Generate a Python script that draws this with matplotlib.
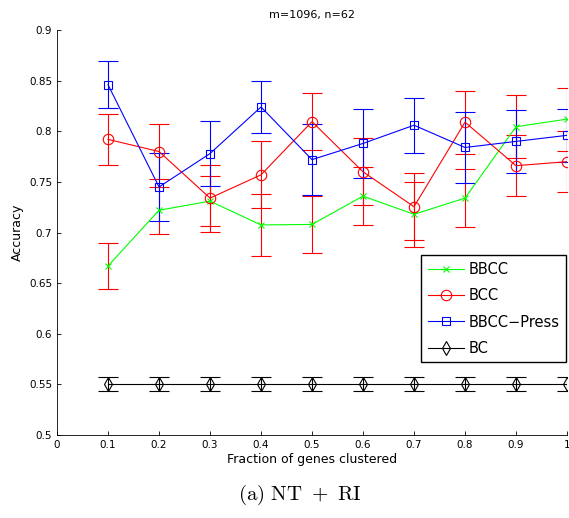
import matplotlib.pyplot as plt
from matplotlib.lines import Line2D
import numpy as np

plt.rcParams['mathtext.fontset'] = 'cm'

frac = [0.1, 0.2, 0.3, 0.4, 0.5, 0.6, 0.7, 0.8, 0.9, 1.0]

bbcc = [0.667, 0.722, 0.731, 0.7075, 0.708, 0.736, 0.718, 0.734, 0.8045, 0.812]
bbcc_err = [0.023, 0.023, 0.025, 0.031, 0.028, 0.029, 0.032, 0.029, 0.031, 0.031]

bcc = [0.792, 0.780, 0.734, 0.757, 0.8095, 0.760, 0.7255, 0.809, 0.766, 0.770]
bcc_err = [0.025, 0.027, 0.033, 0.033, 0.028, 0.033, 0.033, 0.031, 0.030, 0.030]

press = [0.846, 0.745, 0.778, 0.824, 0.772, 0.788, 0.806, 0.784, 0.790, 0.796]
press_err = [0.023, 0.034, 0.032, 0.026, 0.035, 0.034, 0.027, 0.035, 0.031, 0.026]

bc = [0.55] * 10
bc_err = [0.007] * 10

xticks = [0, 0.1, 0.2, 0.3, 0.4, 0.5, 0.6, 0.7, 0.8, 0.9, 1]
xticklabels = ["0", "0.1", "0.2", "0.3", "0.4", "0.5", "0.6", "0.7", "0.8", "0.9", "1"]
yticks = [0.5, 0.55, 0.6, 0.65, 0.7, 0.75, 0.8, 0.85, 0.9]
yticklabels = ["0.5", "0.55", "0.6", "0.65", "0.7", "0.75", "0.8", "0.85", "0.9"]

fig = plt.figure(figsize=(5.69, 5.18), dpi=100)
ax = fig.add_axes([0.1002, 0.1602, 0.8963, 0.7818])

lw = 0.8
cap = 7
ax.errorbar(frac, bbcc, yerr=bbcc_err, color=(0, 1, 0), ecolor=(1, 0, 0), lw=lw,
            elinewidth=lw, capsize=cap, capthick=lw, marker='x', ms=5, mew=lw)
ax.errorbar(frac, bcc, yerr=bcc_err, color=(1, 0, 0), lw=lw, elinewidth=lw,
            capsize=cap, capthick=lw, marker='o', ms=7.5, mfc='none', mew=lw)
ax.errorbar(frac, press, yerr=press_err, color=(0, 0, 1), lw=lw, elinewidth=lw,
            capsize=cap, capthick=lw, marker='s', ms=6, mfc='none', mew=lw)
ax.errorbar(frac, bc, yerr=bc_err, color='k', lw=lw, elinewidth=lw,
            capsize=cap, capthick=lw, marker='d', ms=7.5, mfc='none', mew=lw)

ax.set_xlim(0, 1)
ax.set_ylim(0.5, 0.9)
ax.set_xticks(xticks)
ax.set_xticklabels(xticklabels)
ax.set_yticks(yticks)
ax.set_yticklabels(yticklabels)
ax.tick_params(direction='in', labelsize=7.5, length=3, width=0.6)
ax.spines['top'].set_visible(False)
ax.spines['right'].set_visible(False)
for s in ['left', 'bottom']:
    ax.spines[s].set_linewidth(0.6)

ax.set_title("m=1096, n=62", fontsize=8, pad=9)
ax.set_xlabel("Fraction of genes clustered", fontsize=9, labelpad=2)
ax.set_ylabel("Accuracy", fontsize=9, labelpad=4)

handles = [
    Line2D([], [], color=(0, 1, 0), lw=lw, marker='x', ms=5, mew=lw),
    Line2D([], [], color=(1, 0, 0), lw=lw, marker='o', ms=7.5, mfc='none', mew=lw),
    Line2D([], [], color=(0, 0, 1), lw=lw, marker='s', ms=6, mfc='none', mew=lw),
    Line2D([], [], color='k', lw=lw, marker='d', ms=7.5, mfc='none', mew=lw),
]
leg = ax.legend(handles, ["BBCC", "BCC", "BBCC\u2212Press", "BC"],
                loc='upper left', bbox_to_anchor=(0.714, 0.444), fontsize=10.5,
                frameon=True, fancybox=False, edgecolor='k', framealpha=1,
                borderpad=0.45, labelspacing=0.78, handlelength=2.5,
                handletextpad=0.3, borderaxespad=0)
leg.get_frame().set_linewidth(1.0)
leg.set_clip_on(False)

fig.text(0.527, 0.045, r'$\mathrm{(a)\ NT\ +\ RI}$', fontsize=15, ha='center', va='center')

fig.savefig("out.png", dpi=100)
